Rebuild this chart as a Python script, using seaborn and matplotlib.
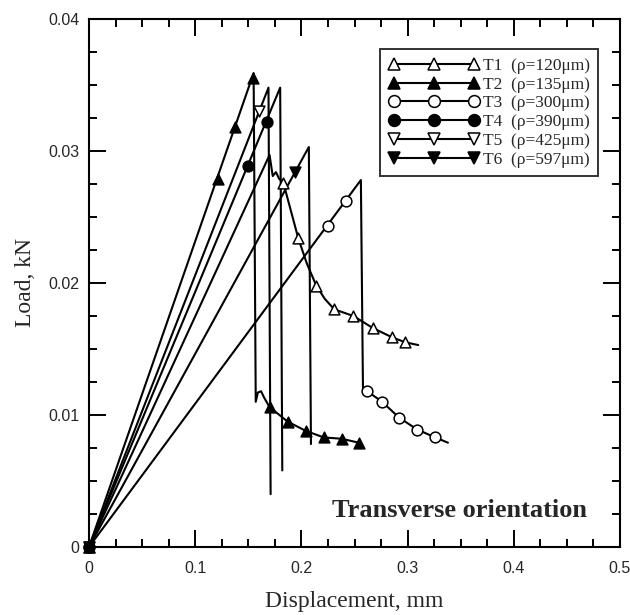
import matplotlib
matplotlib.use("Agg")
import matplotlib.pyplot as plt
import seaborn as sns
from matplotlib.lines import Line2D
from matplotlib.ticker import MultipleLocator, FixedLocator

# Load-displacement curves, transverse orientation
labels = ["T1  (\u03c1=120\u03bcm)", "T2  (\u03c1=135\u03bcm)", "T3  (\u03c1=300\u03bcm)",
          "T4  (\u03c1=390\u03bcm)", "T5  (\u03c1=425\u03bcm)", "T6  (\u03c1=597\u03bcm)"]

# curve points (x = displacement mm, y = load kN)
t1_x = [0, 0.170, 0.173, 0.176, 0.179, 0.183, 0.190, 0.197, 0.205, 0.214, 0.222, 0.231,
        0.249, 0.267, 0.285, 0.298, 0.310]
t1_y = [0, 0.0297, 0.0281, 0.0284, 0.0279, 0.0276, 0.0255, 0.0234, 0.0215, 0.0198, 0.0188,
        0.0180, 0.0175, 0.0166, 0.0159, 0.0155, 0.0153]
t2_x = [0, 0.155, 0.157, 0.159, 0.162, 0.165, 0.170, 0.187, 0.204, 0.221, 0.238, 0.254]
t2_y = [0, 0.0359, 0.0110, 0.0117, 0.0118, 0.0113, 0.0106, 0.0095, 0.0088, 0.0083, 0.0082, 0.0079]
t3_x = [0, 0.256, 0.258, 0.262, 0.276, 0.292, 0.309, 0.326, 0.338]
t3_y = [0, 0.0278, 0.0118, 0.0118, 0.0110, 0.0098, 0.0089, 0.0083, 0.0079]
t4_x = [0, 0.180, 0.182]
t4_y = [0, 0.0348, 0.0058]
t5_x = [0, 0.169, 0.171]
t5_y = [0, 0.0348, 0.0040]
t6_x = [0, 0.207, 0.209]
t6_y = [0, 0.0303, 0.0078]

# marker points
t1_mx = [0, 0.183, 0.197, 0.214, 0.231, 0.249, 0.267, 0.285, 0.298]
t1_my = [0, 0.0276, 0.0234, 0.0198, 0.0180, 0.0175, 0.0166, 0.0159, 0.0155]
t2_mx = [0, 0.121, 0.137, 0.154, 0.170, 0.187, 0.204, 0.221, 0.238, 0.254]
t2_my = [0, 0.0279, 0.0318, 0.0355, 0.0106, 0.0095, 0.0088, 0.0083, 0.0082, 0.0079]
t3_mx = [0, 0.225, 0.242, 0.262, 0.276, 0.292, 0.309, 0.326]
t3_my = [0, 0.0243, 0.0262, 0.0118, 0.0110, 0.0098, 0.0089, 0.0083]
t4_mx = [0, 0.150, 0.168]
t4_my = [0, 0.0289, 0.0322]
t5_mx = [0, 0.160]
t5_my = [0, 0.0330]
t6_mx = [0, 0.194]
t6_my = [0, 0.0284]

x_ticks = [0, 0.1, 0.2, 0.3, 0.4, 0.5]
x_ticklabels = ["0", "0.1", "0.2", "0.3", "0.4", "0.5"]
y_ticks = [0, 0.01, 0.02, 0.03, 0.04]
y_ticklabels = ["0", "0.01", "0.02", "0.03", "0.04"]

sns.set_style("ticks")
plt.rcParams['font.family'] = ['Liberation Serif', 'DejaVu Serif']

curves = [(t1_x, t1_y), (t2_x, t2_y), (t3_x, t3_y), (t4_x, t4_y), (t5_x, t5_y), (t6_x, t6_y)]
marks = [(t1_mx, t1_my), (t2_mx, t2_my), (t3_mx, t3_my), (t4_mx, t4_my), (t5_mx, t5_my), (t6_mx, t6_my)]
styles = [('^', 'white'), ('^', 'black'), ('o', 'white'), ('o', 'black'), ('v', 'white'), ('v', 'black')]

fig = plt.figure(figsize=(6.3, 6.15), dpi=100)
ax = fig.add_axes([0.1413, 0.1106, 0.8428, 0.8585])

for (cx, cy) in curves:
    sns.lineplot(x=cx, y=cy, sort=False, estimator=None, color='black', linewidth=1.5, ax=ax)

for (mx, my), (mk, fc) in zip(marks, styles):
    sns.scatterplot(x=mx, y=my, marker=mk, s=60, color=fc, edgecolor='black',
                    linewidth=1.1, zorder=3, clip_on=False, ax=ax)

ax.set_xlim(0, 0.5)
ax.set_ylim(0, 0.04)
ax.xaxis.set_major_locator(FixedLocator(x_ticks))
ax.yaxis.set_major_locator(FixedLocator(y_ticks))
ax.set_xticklabels(x_ticklabels, fontfamily='Liberation Sans', fontsize=11.5)
ax.set_yticklabels(y_ticklabels, fontfamily='Liberation Sans', fontsize=11.5)
ax.xaxis.set_minor_locator(MultipleLocator(0.025))
ax.yaxis.set_minor_locator(MultipleLocator(0.0025))
ax.tick_params(which='both', direction='in', top=True, right=True, width=1.4, color='black')
ax.tick_params(which='major', length=12)
ax.tick_params(which='minor', length=5.5)
ax.tick_params(axis='x', which='major', pad=10)
ax.tick_params(axis='y', which='major', pad=7)
for sp in ax.spines.values():
    sp.set_linewidth(1.5)
    sp.set_color('black')

ax.set_xlabel("Displacement, mm", fontsize=17, labelpad=11)
ax.set_ylabel("Load, kN", fontsize=17, labelpad=9)

ax.text(0.469, 0.0028, "Transverse orientation", fontsize=19, fontweight='bold',
        ha='right', va='center')

handles = [Line2D([0], [0], color='black', lw=1.5, marker=mk, markersize=8.5,
                  markerfacecolor=fc, markeredgecolor='black', markeredgewidth=1.1)
           for mk, fc in styles]
leg = ax.legend(handles, labels, loc='upper right', bbox_to_anchor=(0.959, 0.943),
                borderaxespad=0, numpoints=3, handlelength=5.2, handletextpad=0.2,
                labelspacing=0.15, fontsize=12.5, frameon=True, fancybox=False,
                borderpad=0.5)
leg.get_frame().set_edgecolor('black')
leg.get_frame().set_linewidth(1.4)

fig.savefig("out.png", dpi=100)
